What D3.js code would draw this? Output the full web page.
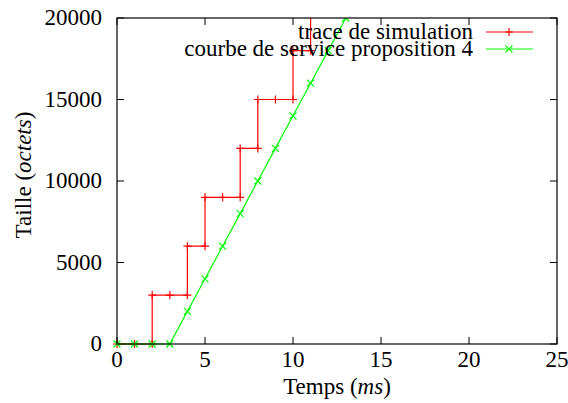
<!DOCTYPE html>
<html>
<head>
<meta charset="utf-8">
<script src="https://cdn.jsdelivr.net/npm/d3@7"></script>
<style>
  body { margin: 0; background: #fff; }
  text { font-family: "Liberation Serif", "DejaVu Serif", serif; fill: #000; }
</style>
</head>
<body>
<div id="chart"></div>
<script>
// trace de simulation (steps)
const traceX = [0, 1, 2, 2, 3, 4, 4, 5, 5, 6, 7, 7, 8, 8, 9, 10, 10, 11, 11];
const traceY = [0, 0, 0, 3000, 3000, 3000, 6000, 6000, 9000, 9000, 9000, 12000, 12000, 15000, 15000, 15000, 18000, 18000, 21000];
// courbe de service proposition 4
const serviceX = [0, 1, 2, 3, 4, 5, 6, 7, 8, 9, 10, 11, 12, 13, 14];
const serviceY = [0, 0, 0, 0, 2000, 4000, 6000, 8000, 10000, 12000, 14000, 16000, 18000, 20000, 22000];
const xTicks = [0, 5, 10, 15, 20, 25];
const yTicks = [0, 5000, 10000, 15000, 20000];

const width = 568, height = 403;
const m = { left: 117, right: 11, top: 18, bottom: 59 };
const iw = width - m.left - m.right, ih = height - m.top - m.bottom;
const fs = "23px";

const svg = d3.select("#chart").append("svg")
    .attr("width", width)
    .attr("height", height);

const x = d3.scaleLinear().domain([0, 25]).range([0, iw]);
const y = d3.scaleLinear().domain([0, 20000]).range([ih, 0]);

const g = svg.append("g").attr("transform", `translate(${m.left},${m.top})`);

g.append("clipPath").attr("id", "clip")
  .append("rect").attr("x", -6).attr("y", 0).attr("width", iw + 6).attr("height", ih + 6);

// ticks on all four sides, pointing inward
const tk = 7;
g.selectAll("line.xtb").data(xTicks).enter().append("line")
    .attr("x1", d => x(d)).attr("x2", d => x(d))
    .attr("y1", ih).attr("y2", ih - tk).attr("stroke", "#000");
g.selectAll("line.xtt").data(xTicks).enter().append("line")
    .attr("x1", d => x(d)).attr("x2", d => x(d))
    .attr("y1", 0).attr("y2", tk).attr("stroke", "#000");
g.selectAll("line.ytl").data(yTicks).enter().append("line")
    .attr("x1", 0).attr("x2", tk)
    .attr("y1", d => y(d)).attr("y2", d => y(d)).attr("stroke", "#000");
g.selectAll("line.ytr").data(yTicks).enter().append("line")
    .attr("x1", iw).attr("x2", iw - tk)
    .attr("y1", d => y(d)).attr("y2", d => y(d)).attr("stroke", "#000");

g.selectAll("text.xl").data(xTicks).enter().append("text")
    .attr("x", d => x(d)).attr("y", ih + 23)
    .attr("text-anchor", "middle").style("font-size", fs)
    .text(d => d);
g.selectAll("text.yl").data(yTicks).enter().append("text")
    .attr("x", -15).attr("y", d => y(d) + 7)
    .attr("text-anchor", "end").style("font-size", fs)
    .text(d => d);

// axis titles
const xt = g.append("text")
    .attr("x", 337 - m.left).attr("y", ih + 50)
    .attr("text-anchor", "middle").style("font-size", fs);
xt.append("tspan").text("Temps (");
xt.append("tspan").style("font-style", "italic").text("ms");
xt.append("tspan").text(")");

const yt = svg.append("text")
    .attr("transform", `translate(31,175) rotate(-90)`)
    .attr("text-anchor", "middle").style("font-size", fs);
yt.append("tspan").text("Taille (");
yt.append("tspan").style("font-style", "italic").text("octets");
yt.append("tspan").text(")");

// series
const trace = traceX.map((d, i) => [d, traceY[i]]);
const service = serviceX.map((d, i) => [d, serviceY[i]]);
const line = d3.line().x(d => x(d[0])).y(d => y(d[1]));
const plot = g.append("g").attr("clip-path", "url(#clip)");

function plus(sel, color) {
  sel.append("path")
    .attr("d", d => { const px = x(d[0]), py = y(d[1]);
      return `M${px - 4},${py}H${px + 4}M${px},${py - 4}V${py + 4}`; })
    .attr("stroke", color).attr("stroke-width", 1.2);
}
function cross(sel, color) {
  sel.append("path")
    .attr("d", d => { const px = x(d[0]), py = y(d[1]);
      return `M${px - 3.5},${py - 3.5}L${px + 3.5},${py + 3.5}M${px - 3.5},${py + 3.5}L${px + 3.5},${py - 3.5}`; })
    .attr("stroke", color).attr("stroke-width", 1.2);
}

plot.append("path").datum(trace).attr("d", line)
    .attr("fill", "none").attr("stroke", "#ff0000").attr("stroke-width", 1.2);
plot.selectAll("g.tp").data(trace).enter().append("g").call(plus, "#ff0000");

plot.append("path").datum(service).attr("d", line)
    .attr("fill", "none").attr("stroke", "#00ff00").attr("stroke-width", 1.2);
plot.selectAll("g.sp").data(service).enter().append("g").call(cross, "#00ff00");

// frame
g.append("rect").attr("width", iw).attr("height", ih)
    .attr("fill", "none").attr("stroke", "#000").attr("stroke-width", 1.2);

// legend
const legend = [
  { label: "trace de simulation", color: "#ff0000", mark: plus },
  { label: "courbe de service proposition 4", color: "#00ff00", mark: cross }
];
const lg = svg.append("g");
legend.forEach((d, i) => {
  const ly = 32 + i * 17;
  lg.append("text").attr("x", 473).attr("y", ly + 7)
    .attr("text-anchor", "end").style("font-size", fs).text(d.label);
  lg.append("line").attr("x1", 486).attr("x2", 533).attr("y1", ly).attr("y2", ly)
    .attr("stroke", d.color).attr("stroke-width", 1.2);
  const mx = x.invert(509 - m.left), my = y.invert(ly - m.top);
  lg.append("g").datum([mx, my])
    .attr("transform", `translate(${m.left},${m.top})`).call(d.mark, d.color);
});
</script>
</body>
</html>
